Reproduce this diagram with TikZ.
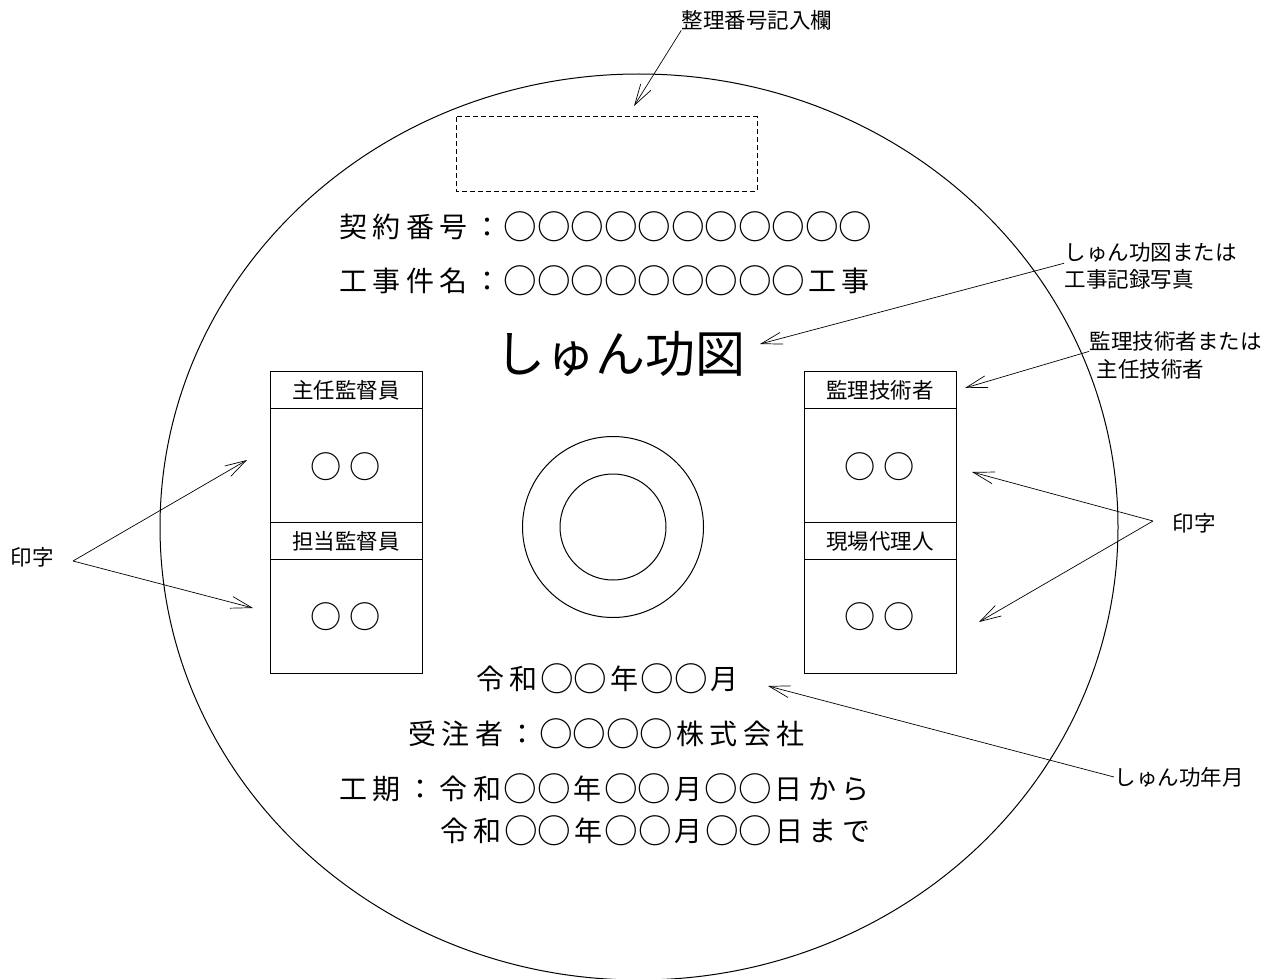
\documentclass[tikz,border=0pt]{standalone}
\usepackage{fontspec}
\setmainfont{Noto Sans CJK JP}
\usetikzlibrary{arrows.meta}

% even spacing of CJK characters, one box per character
\newcommand\maru{\raisebox{-0.07em}{\scalebox{1.2}{○}}}
\makeatletter
\newcommand\spread[2]{\def\spread@w{#1}\spread@i#2\@nil}
\def\spread@i#1{\ifx#1\@nil\else\makebox[\spread@w][c]{\ifx#1○\maru\else#1\fi}\expandafter\spread@i\fi}
\makeatother

\tikzset{
  note/.style={font=\fontsize{21.5}{24}\selectfont, inner sep=0pt},
  entry/.style={font=\fontsize{28}{30}\selectfont, inner sep=0pt, anchor=west},
  pointer/.style={-{Straight Barb[length=21pt,width=12pt]}, line width=0.7pt},
}

\begin{document}
\begin{tikzpicture}[x=1pt,y=-1pt,line width=1pt]
\useasboundingbox (0,0) rectangle (1279,979);

% disc
\draw (639,527) ellipse [x radius=479, y radius=453];
\draw (613,527) circle (90.5);
\draw (613,527) circle (53);
\draw[dash pattern=on 5pt off 3pt] (456,117) rectangle (757,191);

% name boxes
\foreach \x in {270,804} {
  \draw (\x,371) rectangle ++(152,302);
  \draw (\x,408) -- ++(152,0);
  \draw (\x,522) -- ++(152,0);
  \draw (\x,559) -- ++(152,0);
}
\node[note] (shunin-k) at (346,390) {主任監督員};
\node[note] (tanto-k) at (346,541) {担当監督員};
\node[note] (kanri-g) at (880,390) {監理技術者};
\node[note] (genba) at (880,541) {現場代理人};
\foreach \x/\y/\n in {346/467/a, 346/617/b, 880/467/c, 880/617/d}
  \node[font=\fontsize{26}{28}\selectfont, inner sep=0pt] (name-\n) at (\x,\y) {\spread{39pt}{○○}};

% printed texts
\node[entry] (keiyaku) at (336,227) {\spread{33.5pt}{契約番号：○○○○○○○○○○○}};
\node[entry] (kenmei) at (336,281) {\spread{33.5pt}{工事件名：○○○○○○○○○工事}};
\node[font=\fontsize{50}{54}\selectfont, inner sep=0pt] (title) at (620,354) {しゅん功図};
\node[entry] (date) at (473,679) {\spread{33.5pt}{令和○○年○○月}};
\node[entry] (jutyu) at (405,734) {\spread{33.5pt}{受注者：○○○○株式会社}};
\node[entry] (kouki1) at (336,789) {\spread{33.5pt}{工期：令和○○年○○月○○日から}};
\node[entry] (kouki2) at (437,831) {\spread{33.5pt}{令和○○年○○月○○日まで}};

% notes
\node[note] (seiri) at (757,20) {整理番号記入欄};
\node[note, anchor=west] (zumen) at (1064,253) {しゅん功図または};
\node[note, anchor=west] (shashin) at (1064,279) {工事記録写真};
\node[note, anchor=west] (gijutsu) at (1089,341) {監理技術者または};
\node[note, anchor=west] (shunin-g) at (1096,369) {主任技術者};
\node[note, anchor=west] (inji-l) at (10,557) {印字};
\node[note, anchor=west] (inji-r) at (1172,523) {印字};
\node[note, anchor=west] (nengetsu) at (1114,777) {しゅん功年月};

% pointers
\coordinate (seiri-tip) at (634,106);
\coordinate (zumen-tip) at (760,344);
\coordinate (gijutsu-tip) at (965,388);
\coordinate (vl) at (73,561);
\coordinate (vr) at (1153,521);
\coordinate (tip-a) at (247,460);
\coordinate (tip-b) at (253,608);
\coordinate (tip-c) at (972,472);
\coordinate (tip-d) at (979,622);
\coordinate (date-tip) at (768,686);

\draw[pointer] (seiri.south west) -- (seiri-tip);
\draw[pointer] (zumen.south west) -- (zumen-tip);
\draw[pointer] (gijutsu.south west) -- (gijutsu-tip);
\draw[pointer] (vl) -- (tip-a);
\draw[pointer] (vl) -- (tip-b);
\draw[pointer] (vr) -- (tip-c);
\draw[pointer] (vr) -- (tip-d);
\draw[pointer] (nengetsu.west) -- (date-tip);
\end{tikzpicture}
\end{document}
